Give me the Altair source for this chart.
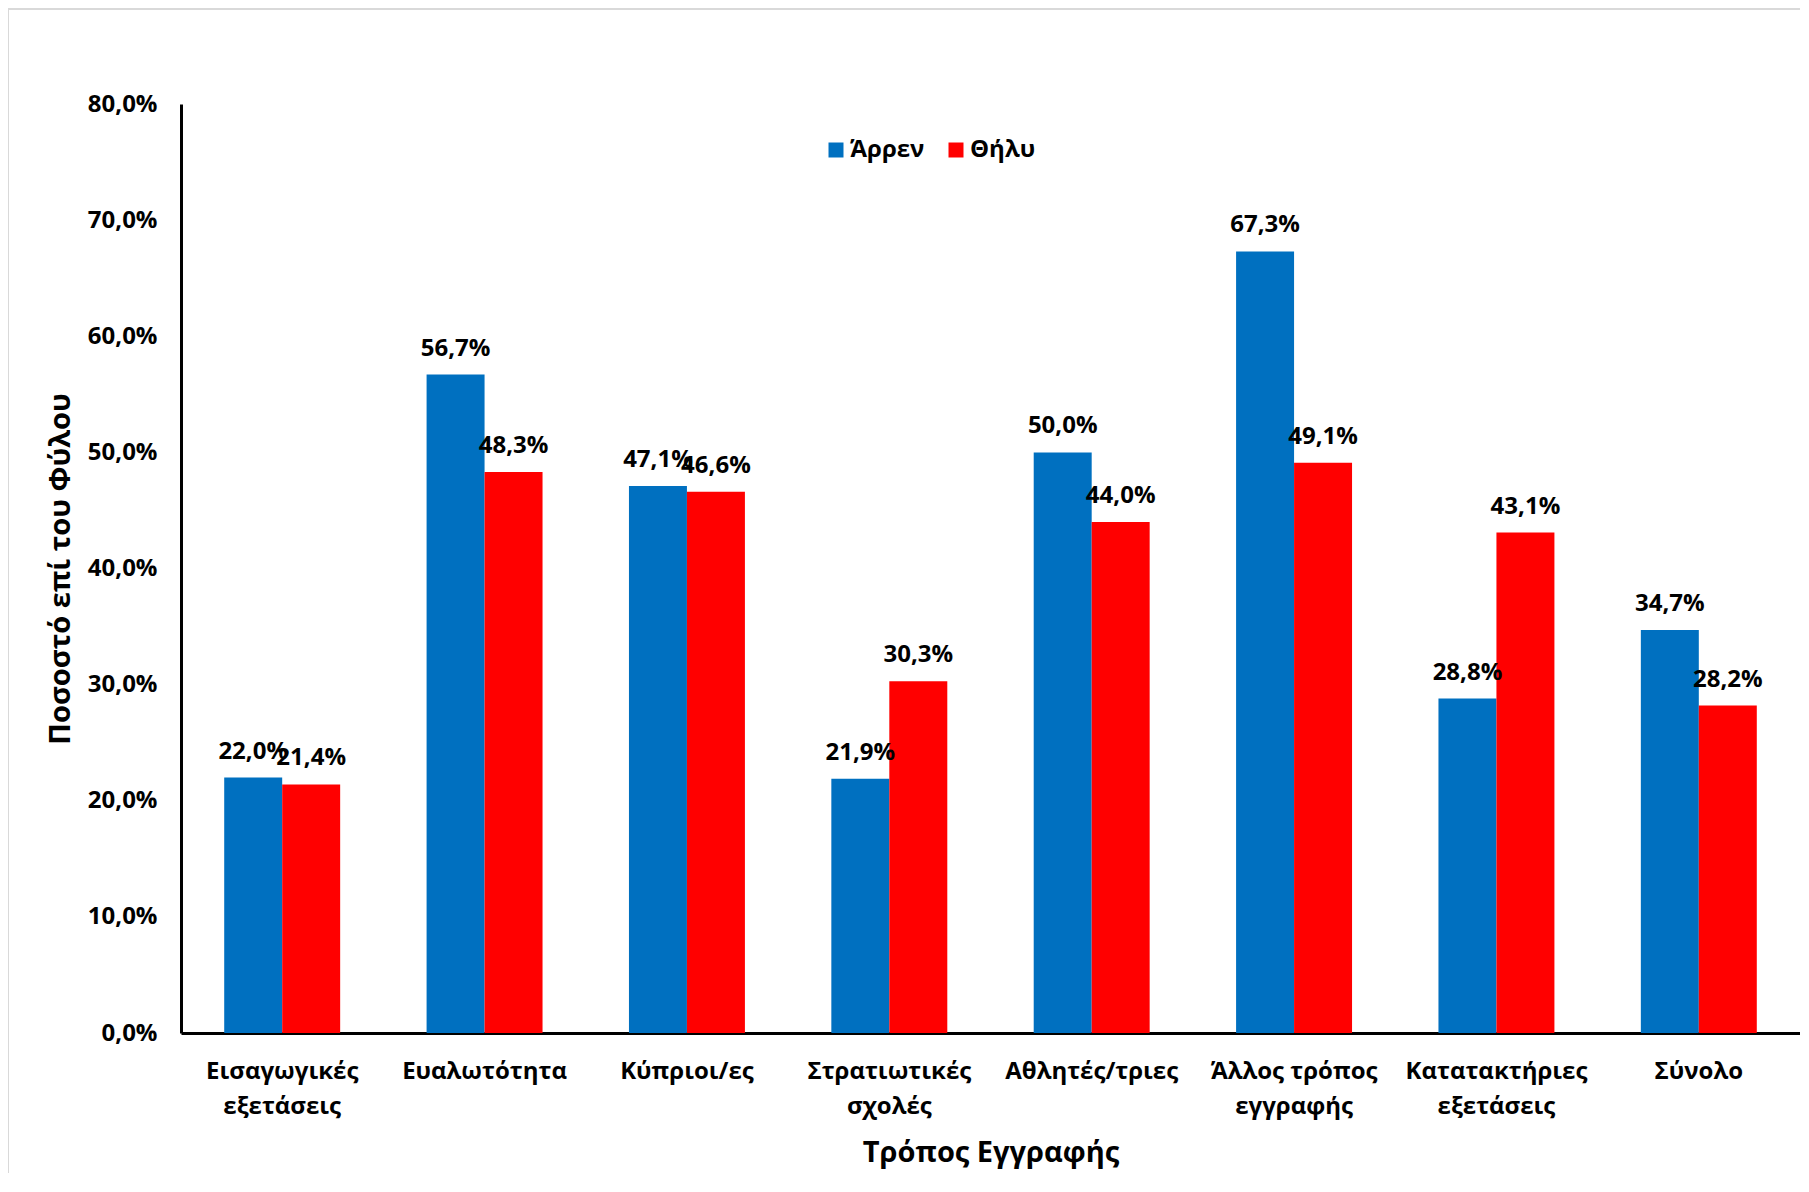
import altair as alt
import pandas as pd

categories = ["Εισαγωγικές\nεξετάσεις", "Ευαλωτότητα", "Κύπριοι/ες", "Στρατιωτικές\nσχολές",
              "Αθλητές/τριες", "Άλλος τρόπος\nεγγραφής", "Κατατακτήριες\nεξετάσεις", "Σύνολο"]
male = [22.0, 56.7, 47.1, 21.9, 50.0, 67.3, 28.8, 34.7]
female = [21.4, 48.3, 46.6, 30.3, 44.0, 49.1, 43.1, 28.2]
series = ["Άρρεν", "Θήλυ"]
colors = ["#0070C0", "#FF0000"]
y_ticks = [0.0, 0.1, 0.2, 0.3, 0.4, 0.5, 0.6, 0.7, 0.8]

rows = []
for c, m, f in zip(categories, male, female):
    for s, v in zip(series, [m, f]):
        rows.append({"cat": c, "sex": s, "value": v / 100,
                     "label": f"{v:.1f}".replace(".", ",") + "%"})
df = pd.DataFrame(rows)

FONT = "Open Sans"

x_enc = alt.X("cat:N", sort=categories,
              scale=alt.Scale(paddingInner=0.427, paddingOuter=0.2135),
              axis=alt.Axis(title="Τρόπος Εγγραφής", labelAngle=0,
                            labelExpr="split(datum.label, '\\n')",
                            labelLineHeight=35, labelPadding=26, ticks=False,
                            labelLimit=0,
                            domainColor="black", domainWidth=3,
                            labelFontSize=24, labelFontWeight="bold", labelFont=FONT,
                            labelColor="black", labelBaseline="top",
                            titleFontSize=29, titleFontWeight="bold", titleFont=FONT,
                            titleColor="black", titlePadding=20))
y_enc = alt.Y("value:Q", scale=alt.Scale(domain=[0, 0.8], nice=False),
              axis=alt.Axis(title="Ποσοστό επί του Φύλου", values=y_ticks,
                            labelExpr="replace(format(datum.value, '.1%'), '.', ',')",
                            grid=False, ticks=False, domainColor="black", domainWidth=3,
                            labelPadding=24, labelFontSize=24, labelFontWeight="bold",
                            labelFont=FONT, labelColor="black",
                            titleFontSize=29, titleFontWeight="bold", titleFont=FONT,
                            titleColor="black", titlePadding=12))
xo_enc = alt.XOffset("sex:N", sort=series, scale=alt.Scale(paddingInner=0, paddingOuter=0))

bars = alt.Chart(df).mark_bar().encode(
    x=x_enc, y=y_enc, xOffset=xo_enc,
    color=alt.Color("sex:N", sort=series,
                    scale=alt.Scale(domain=series, range=colors),
                    legend=alt.Legend(title=None, orient="none", legendX=643, legendY=34,
                                      direction="horizontal", symbolType="square",
                                      symbolSize=225, symbolStrokeWidth=0,
                                      labelFont=FONT, labelFontSize=24,
                                      labelFontWeight="bold", labelColor="black",
                                      columnPadding=19, labelOffset=2)),
)

text = alt.Chart(df).mark_text(dy=-19, baseline="alphabetic", fontSize=24,
                               fontWeight="bold", font=FONT, color="black").encode(
    x=x_enc, y=y_enc, xOffset=xo_enc, text="label:N"
)

frame_df = pd.DataFrame({"f": [0]})
frame_top = alt.Chart(frame_df).mark_rule(color="#D9D9D9", strokeWidth=2).encode(
    x=alt.value(-173), x2=alt.value(1700), y=alt.value(-95))
frame_left = alt.Chart(frame_df).mark_rule(color="#D9D9D9", strokeWidth=2).encode(
    x=alt.value(-173), y=alt.value(-95), y2=alt.value(1300))

chart = alt.layer(frame_top, frame_left, bars, text).properties(
    width=1619, height=929,
    autosize=alt.AutoSizeParams(type="none"),
    padding={"left": 173, "top": 96, "right": 0, "bottom": 140},
    background="white",
).configure_view(stroke=None)

chart.save("out.html", embed_options={"renderer": "svg", "actions": False})
